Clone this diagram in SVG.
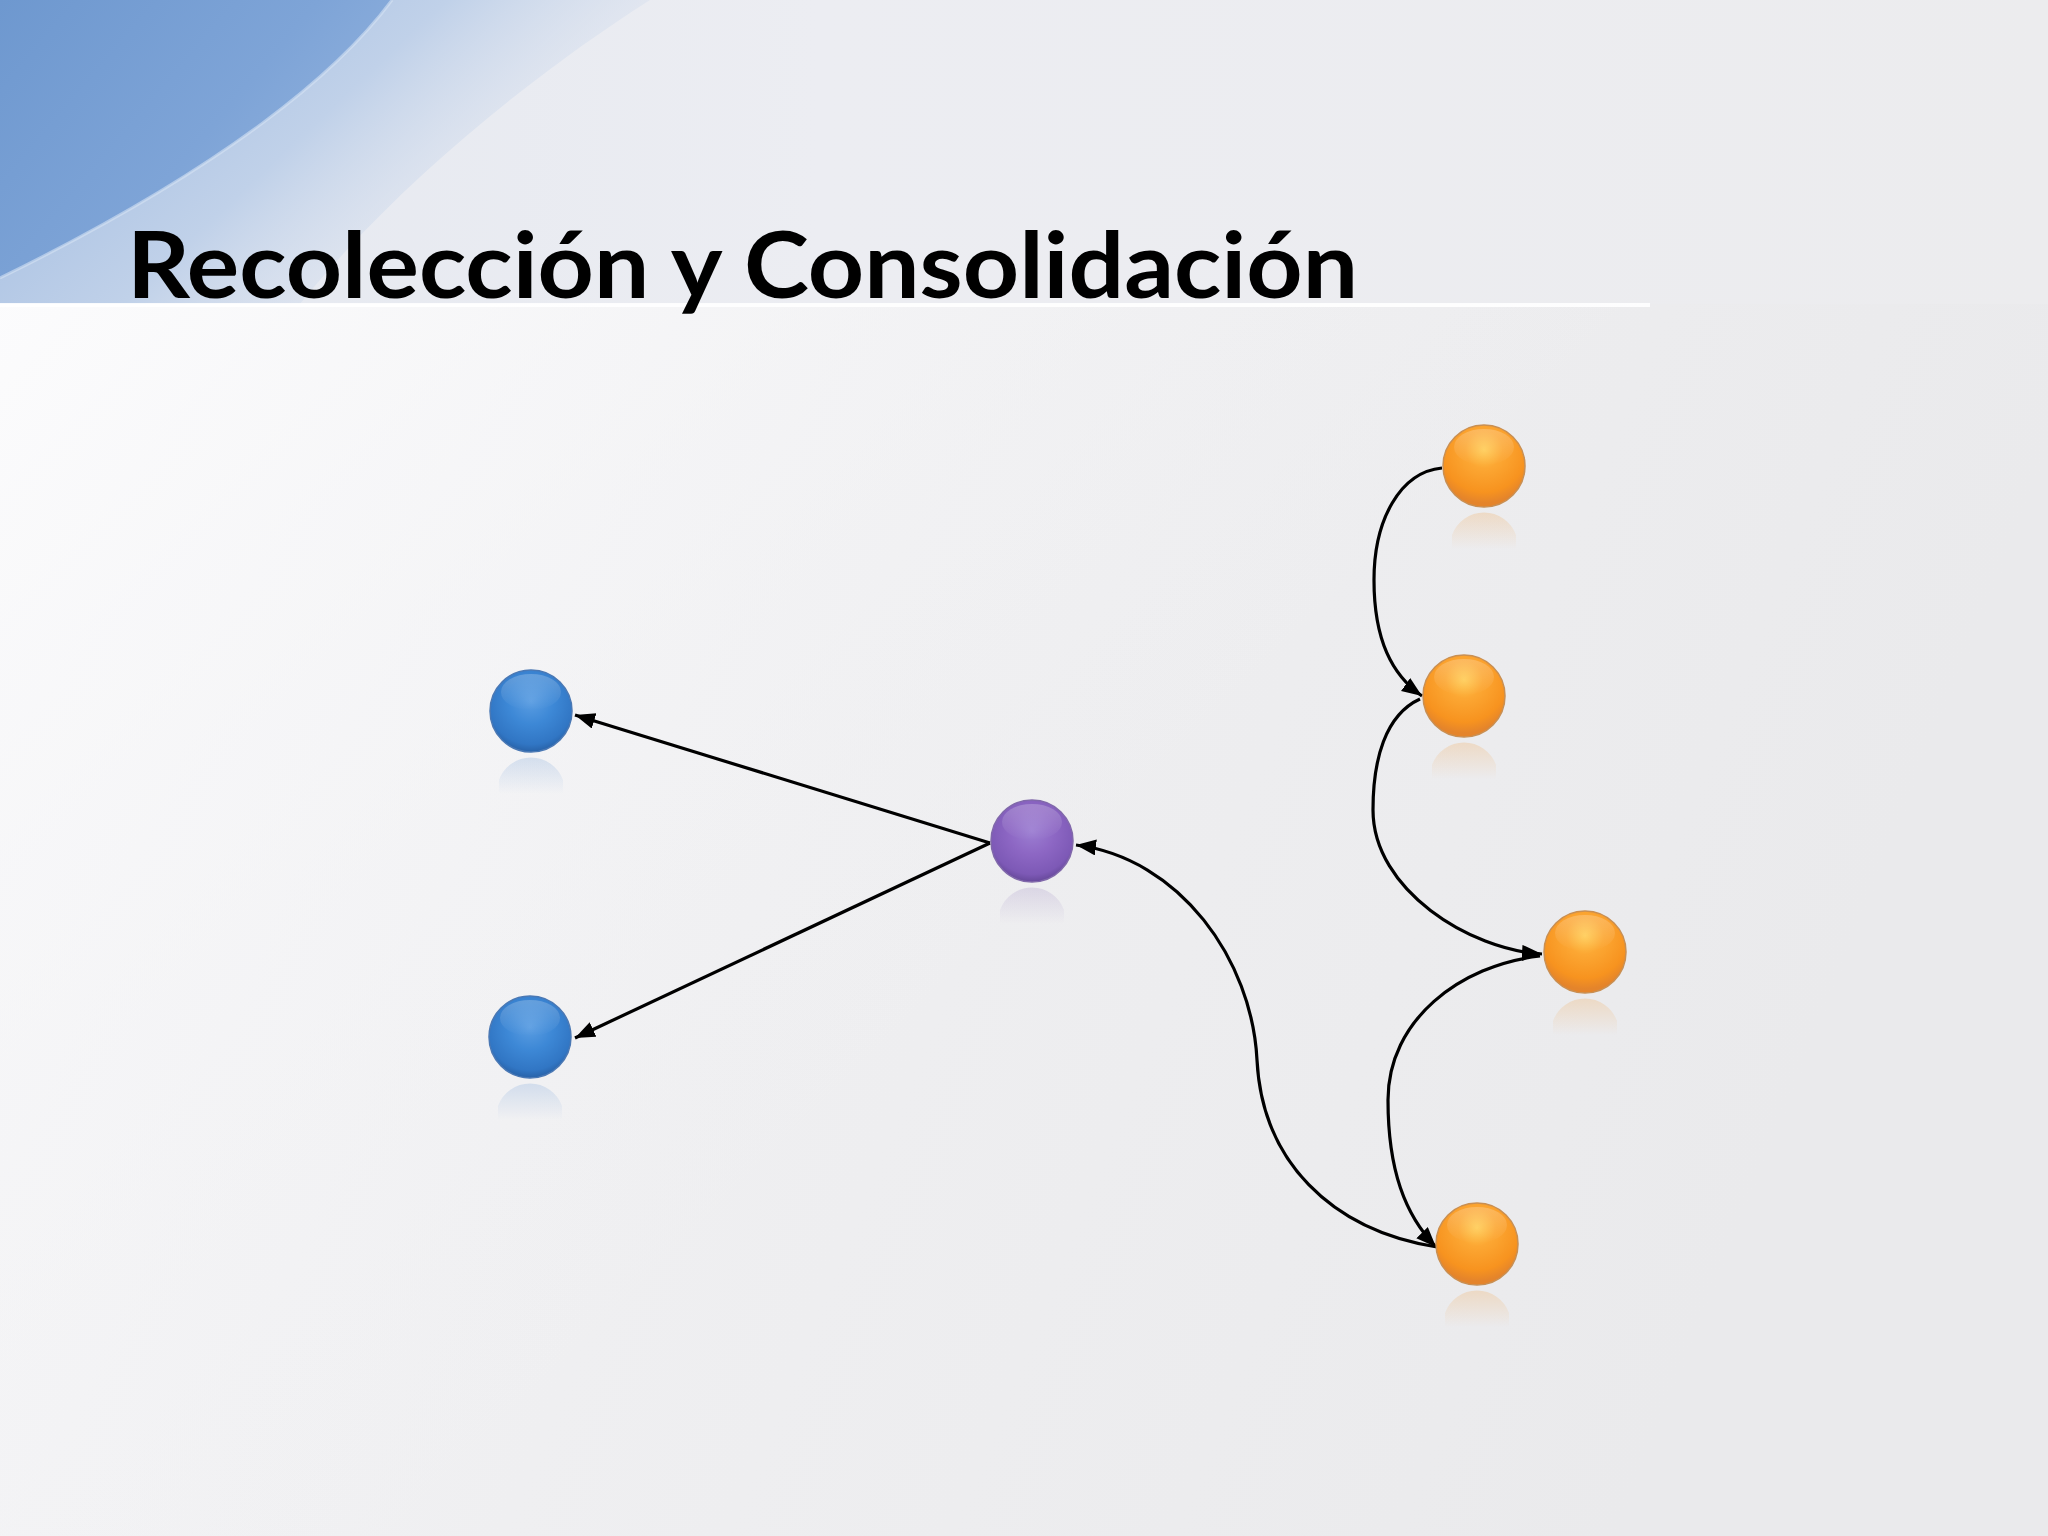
<svg xmlns="http://www.w3.org/2000/svg" width="2048" height="1536" viewBox="0 0 2048 1536">
<defs>
<linearGradient id="bg" x1="0" y1="0" x2="1" y2="0.3">
<stop offset="0" stop-color="#f6f6f8"/>
<stop offset="0.5" stop-color="#efeff1"/>
<stop offset="1" stop-color="#eaeaec"/>
</linearGradient>
<linearGradient id="band" x1="0" y1="0" x2="1" y2="0">
<stop offset="0" stop-color="#e4e8f0"/>
<stop offset="0.4" stop-color="#ecedf2"/>
<stop offset="1" stop-color="#ececee"/>
</linearGradient>
<linearGradient id="swLight" x1="0" y1="0" x2="1" y2="0.5">
<stop offset="0" stop-color="#9ab7df"/>
<stop offset="0.55" stop-color="#c0d1e9"/>
<stop offset="1" stop-color="#e6e9f1" stop-opacity="0"/>
</linearGradient>
<linearGradient id="swDark" x1="0" y1="0" x2="1" y2="0.6">
<stop offset="0" stop-color="#6e98cf"/>
<stop offset="0.6" stop-color="#7ea4d7"/>
<stop offset="1" stop-color="#93b3de"/>
</linearGradient>
<linearGradient id="below" x1="0" y1="0" x2="1" y2="0.6">
<stop offset="0" stop-color="#fcfcfd" stop-opacity="0.95"/>
<stop offset="0.6" stop-color="#f3f3f5" stop-opacity="0"/>
</linearGradient>
<radialGradient id="gBlue" cx="0.5" cy="0.38" r="0.62">
<stop offset="0" stop-color="#5a9de2"/>
<stop offset="0.45" stop-color="#3d88d6"/>
<stop offset="0.85" stop-color="#3176c4"/>
<stop offset="1" stop-color="#2862a8"/>
</radialGradient>
<radialGradient id="gPurple" cx="0.5" cy="0.38" r="0.62">
<stop offset="0" stop-color="#9c7ed2"/>
<stop offset="0.45" stop-color="#8d67c4"/>
<stop offset="0.85" stop-color="#7d59b6"/>
<stop offset="1" stop-color="#66489a"/>
</radialGradient>
<radialGradient id="gOrange" cx="0.5" cy="0.3" r="0.65">
<stop offset="0" stop-color="#ffcc55"/>
<stop offset="0.35" stop-color="#fca733"/>
<stop offset="0.8" stop-color="#f7931f"/>
<stop offset="1" stop-color="#e4842b"/>
</radialGradient>
<linearGradient id="shine" x1="0" y1="0" x2="0" y2="1">
<stop offset="0" stop-color="#ffffff" stop-opacity="0.22"/>
<stop offset="1" stop-color="#ffffff" stop-opacity="0"/>
</linearGradient>
<linearGradient id="rBlue" x1="0" y1="0" x2="0" y2="1">
<stop offset="0" stop-color="#8aaedc" stop-opacity="0.3"/>
<stop offset="1" stop-color="#8aaedc" stop-opacity="0"/>
</linearGradient>
<linearGradient id="rPurple" x1="0" y1="0" x2="0" y2="1">
<stop offset="0" stop-color="#a898c8" stop-opacity="0.28"/>
<stop offset="1" stop-color="#a898c8" stop-opacity="0"/>
</linearGradient>
<linearGradient id="rOrange" x1="0" y1="0" x2="0" y2="1">
<stop offset="0" stop-color="#efb87a" stop-opacity="0.35"/>
<stop offset="1" stop-color="#efb87a" stop-opacity="0"/>
</linearGradient>
<marker id="arrow" markerUnits="userSpaceOnUse" markerWidth="22" markerHeight="18" refX="20" refY="8" orient="auto">
<path d="M0,0 L20,8 L0,16 Z" fill="#000"/>
</marker>
</defs>
<style>
.edge{fill:none;stroke:#000;stroke-width:3.2;marker-end:url(#arrow)}
.blue{fill:url(#gBlue);stroke:#4a78b4;stroke-width:1.5}
.purple{fill:url(#gPurple);stroke:#8068aa;stroke-width:1.5}
.orange{fill:url(#gOrange);stroke:#c98f52;stroke-width:1.5}
.shine{fill:url(#shine)}
.title{font-family:Lato,"Open Sans","Liberation Sans",sans-serif;font-weight:bold;font-size:92px;fill:#000}
</style>
<rect width="2048" height="1536" fill="url(#bg)"/>
<rect y="304" width="2048" height="1232" fill="url(#below)"/>
<rect width="2048" height="304" fill="url(#band)"/>
<path d="M0,0 H650 C540,70 400,180 300,304 H0 Z" fill="url(#swLight)"/>
<path d="M0,0 H392 C340,70 230,165 0,278 Z" fill="url(#swDark)"/>
<path d="M392,0 C340,70 230,165 0,278" fill="none" stroke="#d6e2f3" stroke-width="3" opacity="0.6"/>
<rect y="303" width="1650" height="4" fill="#ffffff" opacity="0.9"/>
<text class="title" x="127" y="298" textLength="1231" lengthAdjust="spacingAndGlyphs">Recolección y Consolidación</text>
<g id="connectors">
<path class="edge" d="M990,843 L575,715"/>
<path class="edge" d="M990,843 L575,1038"/>
<path class="edge" d="M1437,1247 C1330,1230 1262,1160 1257,1060 C1252,960 1180,858 1076,845"/>
<path class="edge" d="M1442,468 C1400,472 1374,520 1374,580 C1374,640 1392,675 1422,696"/>
<path class="edge" d="M1420,699 C1385,715 1373,760 1373,810 C1373,890 1470,950 1542,954"/>
<path class="edge" d="M1540,956 C1460,965 1388,1020 1388,1100 C1388,1170 1405,1215 1436,1247"/>
</g>
<g id="node-blue-1">
<path d="M499,780 A34,34 0 0 1 563,780 L563,794 L499,794 Z" fill="url(#rBlue)"/>
<circle class="blue" cx="531" cy="711" r="41"/>
<ellipse class="shine" cx="531" cy="692" rx="30" ry="18"/>
</g>
<g id="node-blue-2">
<path d="M498,1106 A34,34 0 0 1 562,1106 L562,1120 L498,1120 Z" fill="url(#rBlue)"/>
<circle class="blue" cx="530" cy="1037" r="41"/>
<ellipse class="shine" cx="530" cy="1018" rx="30" ry="18"/>
</g>
<g id="node-purple">
<path d="M1000,910 A34,34 0 0 1 1064,910 L1064,924 L1000,924 Z" fill="url(#rPurple)"/>
<circle class="purple" cx="1032" cy="841" r="41"/>
<ellipse class="shine" cx="1032" cy="822" rx="30" ry="18"/>
</g>
<g id="node-orange-1">
<path d="M1452,535 A34,34 0 0 1 1516,535 L1516,549 L1452,549 Z" fill="url(#rOrange)"/>
<circle class="orange" cx="1484" cy="466" r="41"/>
<ellipse class="shine" cx="1484" cy="447" rx="30" ry="18"/>
</g>
<g id="node-orange-2">
<path d="M1432,765 A34,34 0 0 1 1496,765 L1496,779 L1432,779 Z" fill="url(#rOrange)"/>
<circle class="orange" cx="1464" cy="696" r="41"/>
<ellipse class="shine" cx="1464" cy="677" rx="30" ry="18"/>
</g>
<g id="node-orange-3">
<path d="M1553,1021 A34,34 0 0 1 1617,1021 L1617,1035 L1553,1035 Z" fill="url(#rOrange)"/>
<circle class="orange" cx="1585" cy="952" r="41"/>
<ellipse class="shine" cx="1585" cy="933" rx="30" ry="18"/>
</g>
<g id="node-orange-4">
<path d="M1445,1313 A34,34 0 0 1 1509,1313 L1509,1327 L1445,1327 Z" fill="url(#rOrange)"/>
<circle class="orange" cx="1477" cy="1244" r="41"/>
<ellipse class="shine" cx="1477" cy="1225" rx="30" ry="18"/>
</g>
</svg>
